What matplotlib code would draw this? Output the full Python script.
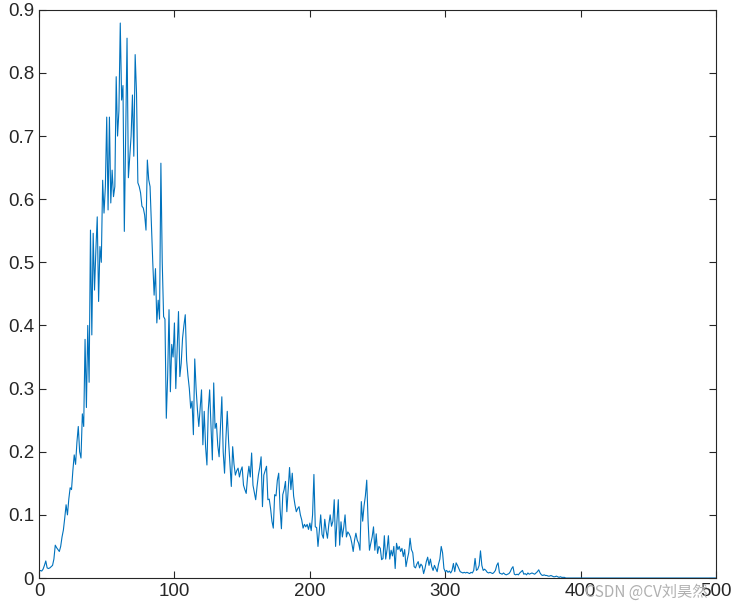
import numpy as np
import matplotlib
matplotlib.use("Agg")
import matplotlib.pyplot as plt

# values, one per x step (x = 0, 1, 2, ...)
rise = [0.010, 0.012, 0.011, 0.014, 0.020, 0.027, 0.016, 0.015, 0.016, 0.018,
        0.020, 0.030, 0.052, 0.048, 0.045, 0.042, 0.050, 0.065, 0.076, 0.095,
        0.116, 0.100, 0.125, 0.143, 0.140, 0.170, 0.195, 0.180, 0.215, 0.240,
        0.200, 0.190, 0.260, 0.240, 0.378, 0.270, 0.400, 0.310, 0.551, 0.385]

peak = [0.546, 0.456, 0.520, 0.572, 0.438, 0.525, 0.500, 0.630, 0.578, 0.620,
        0.730, 0.583, 0.730, 0.594, 0.646, 0.604, 0.620, 0.794, 0.700, 0.740,
        0.879, 0.757, 0.780, 0.549, 0.700, 0.855, 0.634, 0.668, 0.700, 0.765,
        0.668, 0.829, 0.768, 0.626, 0.620, 0.610, 0.589, 0.586, 0.575, 0.551,
        0.662, 0.631, 0.620, 0.560, 0.500, 0.448, 0.490, 0.404, 0.440, 0.410,
        0.657, 0.500, 0.414, 0.410, 0.253, 0.320, 0.425, 0.295, 0.370, 0.350]

decay = [0.404, 0.300, 0.360, 0.422, 0.319, 0.340, 0.380, 0.400, 0.417, 0.345,
         0.320, 0.300, 0.269, 0.280, 0.227, 0.347, 0.300, 0.266, 0.240, 0.270,
         0.298, 0.211, 0.264, 0.208, 0.179, 0.266, 0.298, 0.240, 0.187, 0.309,
         0.237, 0.245, 0.210, 0.192, 0.240, 0.287, 0.200, 0.166, 0.220, 0.264,
         0.216, 0.180, 0.145, 0.208, 0.180, 0.163, 0.170, 0.174, 0.160, 0.170,
         0.176, 0.147, 0.140, 0.134, 0.160, 0.177, 0.160, 0.198, 0.147, 0.135,
         0.124, 0.145, 0.163, 0.175, 0.192, 0.113, 0.163, 0.170, 0.177, 0.124,
         0.125, 0.110, 0.090, 0.079, 0.132, 0.130, 0.155, 0.166, 0.110, 0.078,
         0.132, 0.140, 0.153, 0.105, 0.140, 0.175, 0.140, 0.166, 0.130, 0.116,
         0.105, 0.110, 0.113, 0.100, 0.092, 0.079, 0.085, 0.081, 0.085, 0.077]

tail = [0.087, 0.075, 0.100, 0.164, 0.081, 0.080, 0.050, 0.075, 0.100, 0.069,
        0.063, 0.093, 0.075, 0.063, 0.085, 0.100, 0.082, 0.090, 0.124, 0.050,
        0.090, 0.124, 0.052, 0.089, 0.065, 0.080, 0.100, 0.065, 0.073, 0.070,
        0.065, 0.055, 0.042, 0.060, 0.071, 0.060, 0.055, 0.044, 0.121, 0.090,
        0.114, 0.130, 0.155, 0.090, 0.044, 0.055, 0.065, 0.081, 0.044, 0.070,
        0.039, 0.050, 0.047, 0.029, 0.031, 0.067, 0.030, 0.045, 0.067, 0.030,
        0.044, 0.035, 0.050, 0.015, 0.055, 0.045, 0.050, 0.042, 0.047, 0.034,
        0.045, 0.018, 0.030, 0.040, 0.063, 0.045, 0.040, 0.018, 0.016, 0.022,
        0.026, 0.016, 0.022, 0.019, 0.007, 0.015, 0.026, 0.033, 0.020, 0.030,
        0.018, 0.012, 0.020, 0.015, 0.010, 0.022, 0.030, 0.050, 0.040, 0.015,
        0.010, 0.012, 0.009, 0.011, 0.008, 0.012, 0.023, 0.010, 0.024, 0.020,
        0.015, 0.010, 0.009, 0.008, 0.009, 0.008, 0.009, 0.008, 0.007, 0.009,
        0.008, 0.012, 0.031, 0.012, 0.014, 0.020, 0.043, 0.020, 0.012, 0.014,
        0.012, 0.009, 0.008, 0.009, 0.008, 0.007, 0.009, 0.012, 0.020, 0.024,
        0.008, 0.007, 0.006, 0.008, 0.006, 0.005, 0.006, 0.007, 0.010, 0.015,
        0.018, 0.006, 0.005, 0.006, 0.005, 0.008, 0.010, 0.012, 0.006, 0.007,
        0.005, 0.008, 0.006, 0.007, 0.008, 0.007, 0.006, 0.008, 0.010, 0.013,
        0.008, 0.005, 0.004, 0.005, 0.004, 0.004, 0.003, 0.003, 0.004, 0.003,
        0.002, 0.002, 0.003, 0.002, 0.001, 0.002, 0.001, 0.001, 0.001, 0.000]

flat = [0.0] * 111  # curve lies on the axis from 390 to 500

y = np.array(rise + peak + decay + tail + flat)
x = np.arange(len(y))

xticks = [0, 100, 200, 300, 400, 500]
yticks = [0, 0.1, 0.2, 0.3, 0.4, 0.5, 0.6, 0.7, 0.8, 0.9]

plt.rcParams['font.family'] = ['Liberation Sans', 'DejaVu Sans']
dark = '#262626'

fig = plt.figure(figsize=(7.36, 6.11), dpi=100)
ax = fig.add_axes([0.053, 0.054, 0.920, 0.930])
ax.plot(x, y, color='#0072BD', linewidth=0.8)

ax.set_xlim(0, 500)
ax.set_ylim(0, 0.9)
ax.set_xticks(xticks)
ax.set_yticks(yticks)
ax.set_yticklabels(['0'] + ['%.1f' % v for v in yticks[1:]])
ax.tick_params(direction='in', top=True, right=True, labelsize=13.5,
               colors=dark, length=5, width=0.8)
for s in ax.spines.values():
    s.set_color(dark)
    s.set_linewidth(0.8)

fig.text(0.795, 0.03, 'CSDN @CV刘昊然', fontsize=11, color='#b0b0b0',
         family=['Noto Sans CJK SC', 'DejaVu Sans'], va='center')

fig.savefig('out.png', dpi=100)
